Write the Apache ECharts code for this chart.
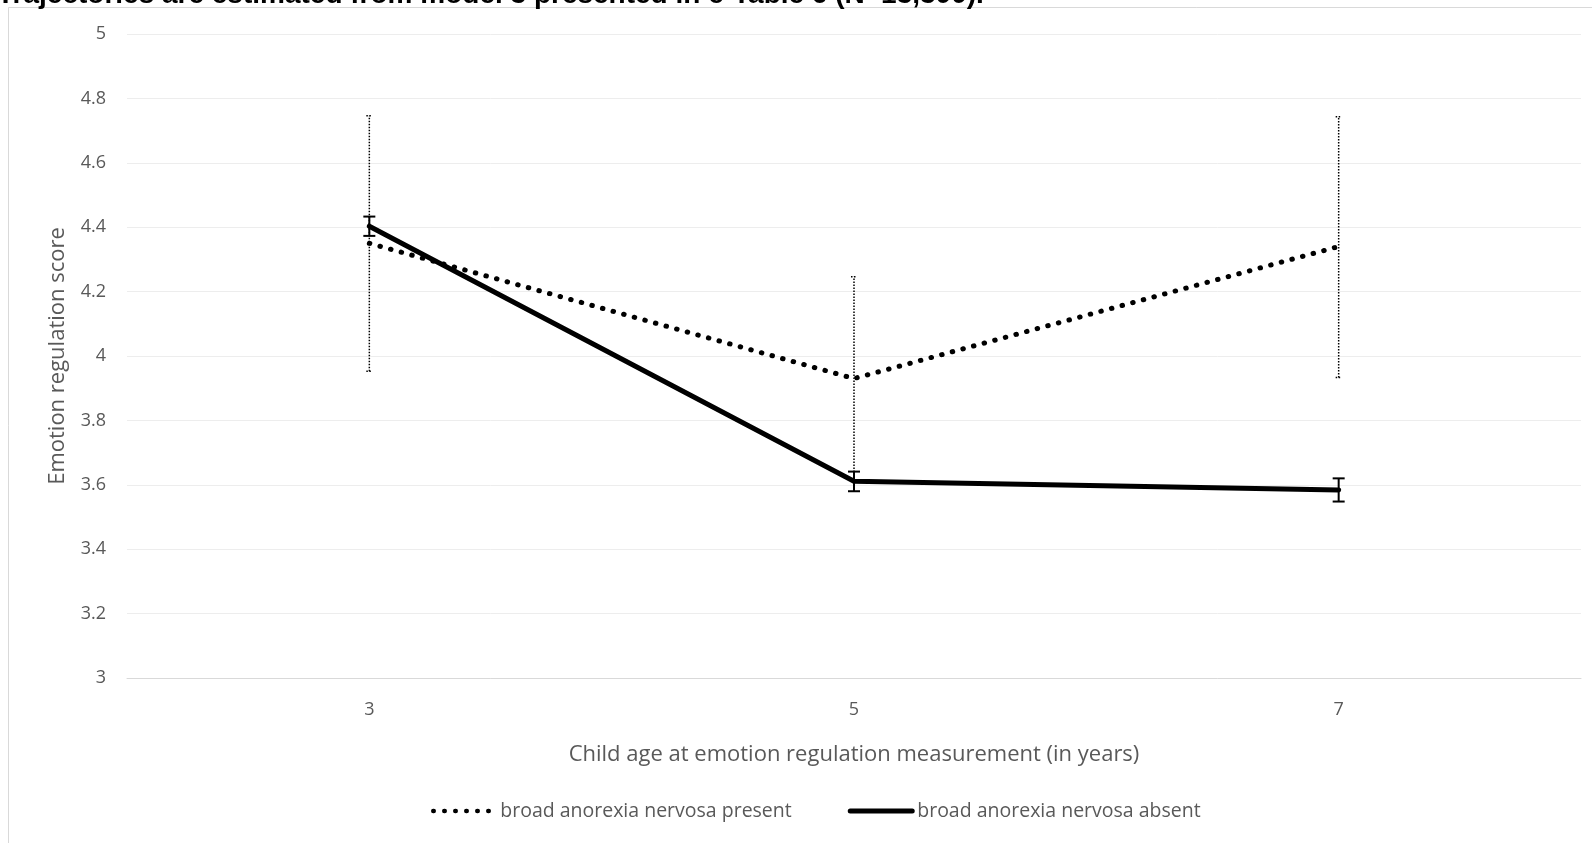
<!DOCTYPE html>
<html>
<head>
<meta charset="utf-8">
<script src="https://cdn.jsdelivr.net/npm/echarts@6/dist/echarts.min.js"></script>
<style>
html,body{margin:0;padding:0;background:#fff;}
#c{width:1592px;height:843px;}
</style>
</head>
<body>
<div id="c"></div>
<script>
const categories = ['3', '5', '7'];
const presentMean = [4.35, 3.93, 4.34];
const presentLow = [3.953, 3.612, 3.933];
const presentHigh = [4.746, 4.246, 4.743];
const absentMean = [4.403, 3.611, 3.584];
const absentLow = [4.373, 3.580, 3.548];
const absentHigh = [4.433, 3.641, 3.620];
const seriesNames = ['broad anorexia nervosa present', 'broad anorexia nervosa absent'];
const titleText = 'Trajectories are estimated from model 3 presented in e-Table 6 (N=13,300).';

const FONT = '"Open Sans", "Noto Sans", sans-serif';

function errData(low, high) {
  return categories.map((c, i) => [i, low[i], high[i]]);
}

function makeErrRender(capHalf, width, dash) {
  return function (params, api) {
    const x = api.value(0);
    const lo = api.coord([x, api.value(1)]);
    const hi = api.coord([x, api.value(2)]);
    const style = { stroke: '#000', lineWidth: width, lineDash: dash };
    return {
      type: 'group',
      children: [
        { type: 'line', shape: { x1: lo[0], y1: lo[1], x2: hi[0], y2: hi[1] }, style: style },
        { type: 'line', shape: { x1: hi[0] - capHalf, y1: hi[1], x2: hi[0] + capHalf, y2: hi[1] }, style: style },
        { type: 'line', shape: { x1: lo[0] - capHalf, y1: lo[1], x2: lo[0] + capHalf, y2: lo[1] }, style: style }
      ]
    };
  };
}

const chart = echarts.init(document.getElementById('c'), null, { renderer: 'canvas' });
chart.setOption({
  animation: false,
  backgroundColor: '#fff',
  graphic: [
    { type: 'rect', shape: { x: 8.5, y: 7.5, width: 1700, height: 900 }, style: { fill: 'none', stroke: '#d9d9d9', lineWidth: 1 }, z: -10 },
    { type: 'text', left: -3, top: -19, style: { text: titleText, font: 'bold 28px "Liberation Sans", Arial, sans-serif', fill: '#000' } }
  ],
  grid: { left: 127, right: 11, top: 34, bottom: 165, containLabel: false },
  xAxis: {
    type: 'category',
    data: categories,
    boundaryGap: true,
    name: 'Child age at emotion regulation measurement (in years)',
    nameLocation: 'middle',
    nameGap: 66,
    nameTextStyle: { color: '#595959', fontSize: 22, fontFamily: FONT },
    axisLine: { lineStyle: { color: '#d9d9d9', width: 1 } },
    axisTick: { show: false },
    axisLabel: { color: '#595959', fontSize: 18, fontFamily: FONT, margin: 23 },
    splitLine: { show: false }
  },
  yAxis: {
    type: 'value',
    min: 3, max: 5, interval: 0.2,
    name: 'Emotion regulation score',
    nameLocation: 'middle',
    nameGap: 58,
    nameTextStyle: { color: '#595959', fontSize: 22, fontFamily: FONT },
    axisLine: { show: false },
    axisTick: { show: false },
    axisLabel: { color: '#595959', fontSize: 18, fontFamily: FONT, margin: 21, formatter: v => String(+v.toFixed(1)) },
    splitLine: { lineStyle: { color: '#ededed', width: 1 } }
  },
  legend: {
    bottom: 17,
    left: 426,
    itemWidth: 62,
    itemHeight: 14,
    itemGap: 56,
    textStyle: { color: '#595959', fontSize: 19.5, fontFamily: FONT },
    data: [
      { name: seriesNames[0], itemStyle: { opacity: 0 }, lineStyle: { width: 4.5, type: [0.5, 10.5], cap: 'round', color: '#000' } },
      { name: seriesNames[1], itemStyle: { opacity: 0 }, lineStyle: { width: 5, color: '#000' } }
    ]
  },
  series: [
    {
      name: seriesNames[0],
      type: 'line',
      data: presentMean,
      symbol: 'none',
      lineStyle: { color: '#000', width: 5, type: [0.5, 10.5], cap: 'round' },
      itemStyle: { color: '#000' },
      z: 3
    },
    {
      name: seriesNames[1],
      type: 'line',
      data: absentMean,
      symbol: 'none',
      lineStyle: { color: '#000', width: 5, cap: 'round' },
      itemStyle: { color: '#000' },
      z: 4
    },
    {
      name: 'errPresent',
      type: 'custom',
      data: errData(presentLow, presentHigh),
      renderItem: makeErrRender(3, 1.5, [1.5, 1.5]),
      z: 2,
      silent: true
    },
    {
      name: 'errAbsent',
      type: 'custom',
      data: errData(absentLow, absentHigh),
      renderItem: makeErrRender(6, 2, null),
      z: 5,
      silent: true
    }
  ]
});
</script>
</body>
</html>
